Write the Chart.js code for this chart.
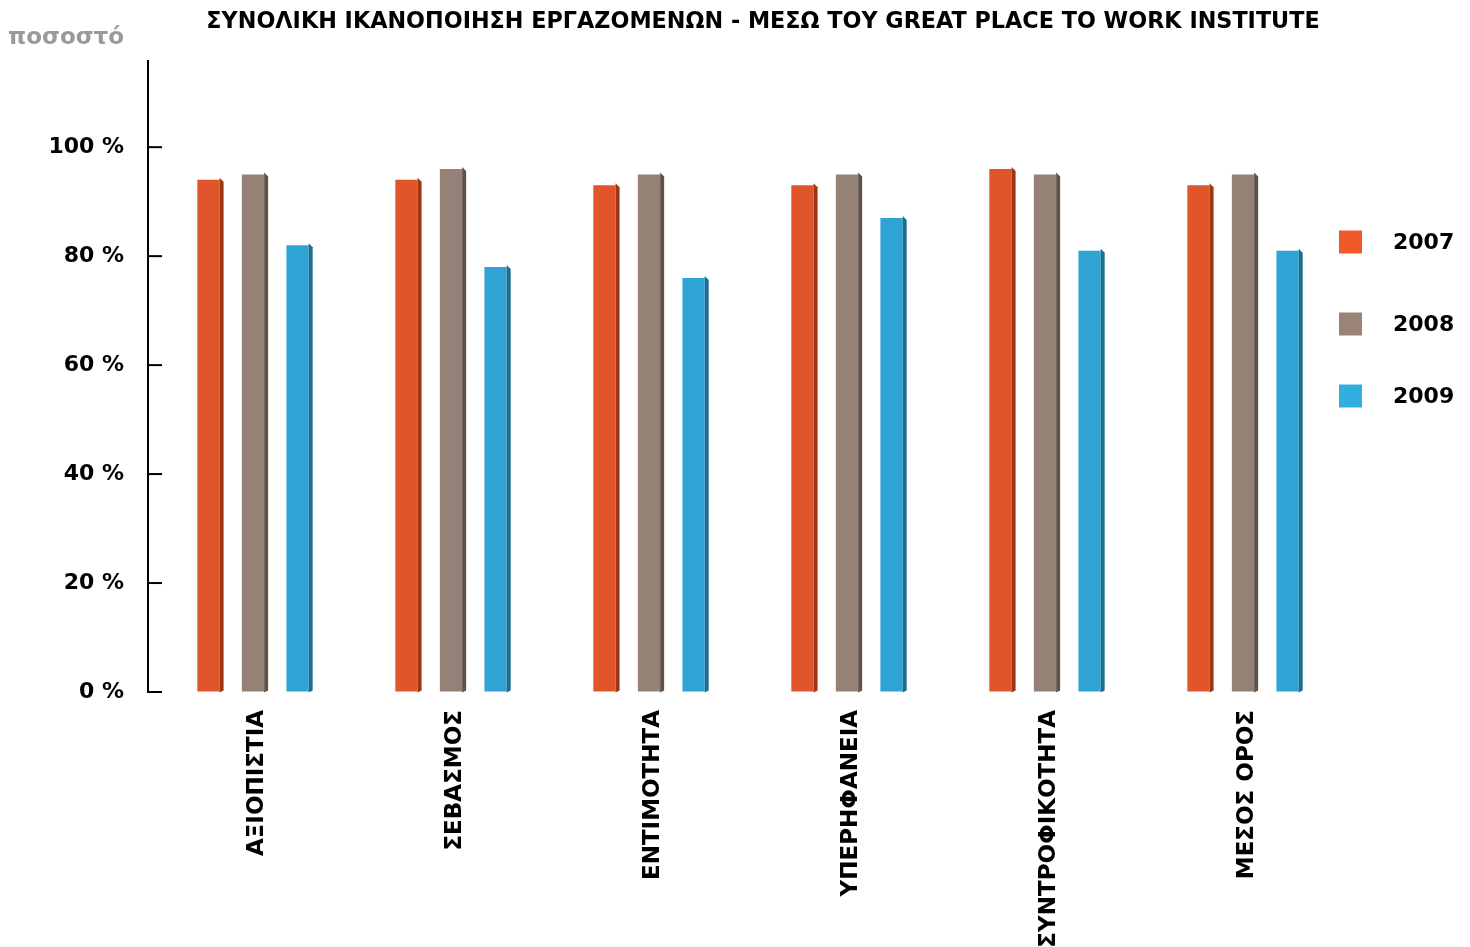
<!DOCTYPE html>
<html>
<head>
<meta charset="utf-8">
<script src="https://cdn.jsdelivr.net/npm/chart.js@4/dist/chart.umd.min.js"></script>
<style>
  html, body { margin: 0; padding: 0; background: #fff; }
  #wrap { width: 1470px; height: 947px; position: relative; }
</style>
</head>
<body>
<div id="wrap"><canvas id="chart"></canvas></div>
<script>
// chart data
const categories = ['ΑΞΙΟΠΙΣΤΙΑ', 'ΣΕΒΑΣΜΟΣ', 'ΕΝΤΙΜΟΤΗΤΑ', 'ΥΠΕΡΗΦΑΝΕΙΑ', 'ΣΥΝΤΡΟΦΙΚΟΤΗΤΑ', 'ΜΕΣΟΣ ΟΡΟΣ'];
const years = ['2007', '2008', '2009'];
const values2007 = [94, 94, 93, 93, 96, 93];
const values2008 = [95, 96, 95, 95, 95, 95];
const values2009 = [82, 78, 76, 87, 81, 81];
const yTicks = [0, 20, 40, 60, 80, 100];

const chartTitle = 'ΣΥΝΟΛΙΚΗ ΙΚΑΝΟΠΟΙΗΣΗ ΕΡΓΑΖΟΜΕΝΩΝ - ΜΕΣΩ ΤΟΥ GREAT PLACE TO WORK INSTITUTE';
const yAxisName = 'ποσοστό';

const FONT = "'DejaVu Sans', sans-serif";
const fronts = ['#e0552a', '#958175', '#2fa4d4'];
const sides = ['#9c3614', '#5f5249', '#1b6e90'];
const legendColors = ['#f05a28', '#9a8478', '#31aee0'];

// the axis line sits a little left of where the first category slot begins
const AXIS_GAP = 6;

// 3D-ish right side face on every bar + axis line, inward ticks, title, legend
const decor = {
  id: 'decor',
  afterDatasetsDraw(chart) {
    const ctx = chart.ctx;
    chart.data.datasets.forEach((ds, i) => {
      chart.getDatasetMeta(i).data.forEach(bar => {
        const r = bar.x + bar.width / 2;
        ctx.save();
        ctx.fillStyle = sides[i];
        ctx.beginPath();
        ctx.moveTo(r, bar.y - 2);
        ctx.lineTo(r + 4, bar.y + 2);
        ctx.lineTo(r + 4, bar.base - 1);
        ctx.lineTo(r, bar.base + 1);
        ctx.closePath();
        ctx.fill();
        ctx.restore();
      });
    });
  },
  afterDraw(chart) {
    const ctx = chart.ctx;
    const y = chart.scales.y;
    const ax = chart.chartArea.left - AXIS_GAP;
    ctx.save();
    ctx.strokeStyle = '#000';
    ctx.lineWidth = 2;
    ctx.beginPath();
    ctx.moveTo(ax, chart.chartArea.top);
    ctx.lineTo(ax, chart.chartArea.bottom + 1);
    ctx.stroke();
    yTicks.forEach(v => {
      const py = y.getPixelForValue(v);
      ctx.beginPath();
      ctx.moveTo(ax, py);
      ctx.lineTo(ax + 14, py);
      ctx.stroke();
    });

    // title
    ctx.fillStyle = '#000';
    ctx.font = 'bold 22.3px ' + FONT;
    ctx.textAlign = 'center';
    ctx.textBaseline = 'middle';
    ctx.fillText(chartTitle, 763, 22);

    // axis name
    ctx.fillStyle = '#9a9a9a';
    ctx.font = 'bold 23px ' + FONT;
    ctx.textAlign = 'left';
    ctx.fillText(yAxisName, 8, 38);

    // legend
    const rows = [242, 324, 396];
    ctx.font = 'bold 22px ' + FONT;
    chart.data.datasets.forEach((ds, i) => {
      ctx.fillStyle = legendColors[i];
      ctx.fillRect(1339, rows[i] - 11.5, 23, 23);
      ctx.fillStyle = '#000';
      ctx.fillText(ds.label, 1393, rows[i] + 1);
    });
    ctx.restore();
  }
};

new Chart(document.getElementById('chart'), {
  type: 'bar',
  data: {
    labels: categories,
    datasets: [
      { label: years[0], data: values2007, backgroundColor: fronts[0] },
      { label: years[1], data: values2008, backgroundColor: fronts[1] },
      { label: years[2], data: values2009, backgroundColor: fronts[2] }
    ]
  },
  options: {
    responsive: true,
    maintainAspectRatio: false,
    animation: false,
    layout: { padding: { top: 60, right: 128, bottom: 0, left: 0 } },
    datasets: { bar: { categoryPercentage: 0.675, barPercentage: 0.5 } },
    plugins: {
      legend: { display: false },
      title: { display: false },
      tooltip: { enabled: false }
    },
    scales: {
      x: {
        grid: { display: false, drawTicks: false },
        border: { display: false },
        ticks: {
          minRotation: 90, maxRotation: 90, padding: 18, labelOffset: 4,
          color: '#000', font: { family: FONT, size: 23, weight: 'bold' }
        },
        afterFit(scale) { scale.height = 255; }
      },
      y: {
        min: 0, max: 116,
        grid: { drawOnChartArea: false, drawTicks: false },
        border: { display: false },
        afterBuildTicks(scale) { scale.ticks = yTicks.map(v => ({ value: v })); },
        ticks: {
          padding: 30, color: '#000',
          font: { family: FONT, size: 22, weight: 'bold' },
          callback: v => v + ' %'
        },
        afterFit(scale) { scale.width = 148 + AXIS_GAP; }
      }
    }
  },
  plugins: [decor]
});
</script>
</body>
</html>
